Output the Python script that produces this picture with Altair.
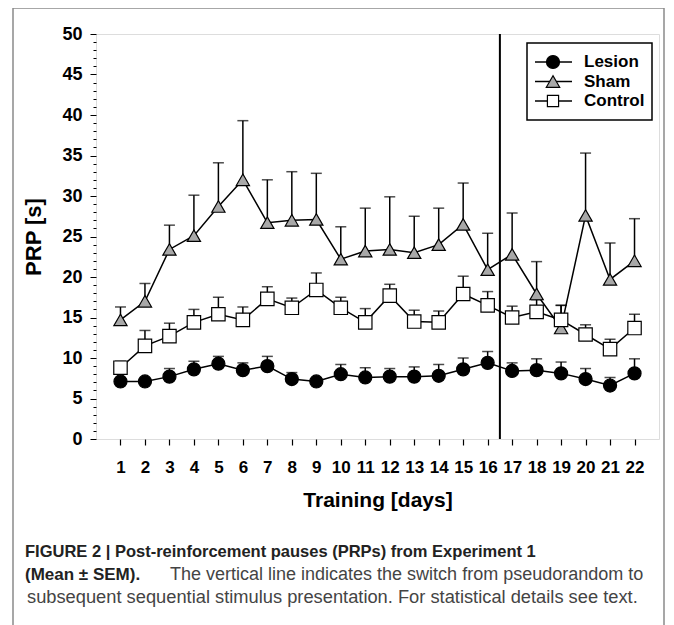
import altair as alt
import pandas as pd

days = list(range(1, 23))
series = ["Lesion", "Sham", "Control"]

lesion_mean = [7.1, 7.1, 7.7, 8.6, 9.3, 8.5, 9.0, 7.4, 7.1, 8.0, 7.6, 7.7, 7.7, 7.8, 8.6, 9.4, 8.4, 8.5, 8.1, 7.4, 6.6, 8.1]
lesion_sem = [0.4, 0.4, 1.0, 1.0, 0.9, 0.9, 1.2, 0.8, 0.4, 1.2, 1.2, 1.0, 1.2, 1.4, 1.4, 1.4, 1.0, 1.4, 1.4, 1.3, 1.0, 1.8]
sham_mean = [14.7, 17.0, 23.4, 25.1, 28.7, 32.0, 26.7, 27.0, 27.1, 22.2, 23.2, 23.4, 23.0, 24.0, 26.5, 20.9, 22.8, 17.9, 13.7, 27.6, 19.7, 22.0]
sham_sem = [1.6, 2.2, 3.0, 5.0, 5.4, 7.3, 5.3, 6.0, 5.7, 4.0, 5.3, 6.5, 4.5, 4.5, 5.1, 4.5, 5.1, 4.0, 2.8, 7.7, 4.5, 5.2]
control_mean = [8.8, 11.5, 12.7, 14.4, 15.4, 14.7, 17.3, 16.2, 18.4, 16.2, 14.4, 17.7, 14.5, 14.4, 17.9, 16.5, 15.0, 15.7, 14.7, 12.9, 11.1, 13.7]
control_sem = [0.8, 1.9, 1.6, 1.6, 2.1, 1.6, 1.5, 1.2, 2.1, 1.3, 1.7, 1.4, 1.4, 1.4, 2.2, 1.7, 1.4, 1.5, 1.8, 1.2, 1.2, 1.7]

switch_day = [16.5]
y_ticks = list(range(0, 51))

caption_line1 = "FIGURE 2 | Post-reinforcement pauses (PRPs) from Experiment 1"
caption_line2_bold = "(Mean \u00b1 SEM)."
caption_line2 = "The vertical line indicates the switch from pseudorandom to"
caption_line3 = "subsequent sequential stimulus presentation. For statistical details see text."

shapes = ["circle", "triangle-up", "square"]
fills = ["black", "#a8a8a8", "white"]
sizes = [170, 180, 125]

means = [lesion_mean, sham_mean, control_mean]
sems = [lesion_sem, sham_sem, control_sem]
rows = []
for s, m, e in zip(series, means, sems):
    for d, mv, ev in zip(days, m, e):
        rows.append({"day": d, "value": mv, "upper": round(mv + ev, 2), "group": s})
df = pd.DataFrame(rows)

FONT = "Liberation Sans"

xscale = alt.Scale(domain=[0, 23], nice=False)
yscale = alt.Scale(domain=[0, 50], nice=False)
xaxis = alt.Axis(values=days, title="Training [days]", grid=False,
                 labelFont=FONT, labelFontSize=17, labelFontWeight="bold",
                 labelColor="black", labelPadding=14, tickSize=6,
                 tickColor="black", tickWidth=1.2, domain=False,
                 labelOverlap=False, labelFlush=False,
                 titleFont=FONT, titleFontSize=21, titleFontWeight="bold",
                 titleColor="black", titlePadding=14)
yaxis = alt.Axis(values=y_ticks, title="PRP [s]", grid=False,
                 labelExpr="datum.value % 5 === 0 ? datum.label : ''",
                 labelFont=FONT, labelFontSize=18, labelFontWeight="bold",
                 labelColor="black", labelPadding=8, labelOverlap=False,
                 labelFlush=False,
                 tickSize={"condition": {"test": "datum.value % 5 === 0", "value": 6}, "value": 3},
                 tickColor="black", tickWidth=1, domain=False,
                 titleFont=FONT, titleFontSize=22, titleFontWeight="bold",
                 titleColor="black", titlePadding=16)

X = alt.X("day:Q", scale=xscale, axis=xaxis)
Y = alt.Y("value:Q", scale=yscale, axis=yaxis)

base = alt.Chart(df)

lines = base.mark_line(color="black", strokeWidth=1.5).encode(x=X, y=Y, detail="group:N")
err = base.mark_rule(color="black", strokeWidth=1.5).encode(x=X, y=Y, y2="upper:Q")
caps = base.mark_tick(color="black", orient="horizontal", size=11, thickness=1.5).encode(
    x=X, y=alt.Y("upper:Q", scale=yscale, axis=yaxis))
points = base.mark_point(filled=True, stroke="black", strokeWidth=1.2, opacity=1).encode(
    x=X, y=Y,
    shape=alt.Shape("group:N", scale=alt.Scale(domain=series, range=shapes), legend=None),
    fill=alt.Fill("group:N", scale=alt.Scale(domain=series, range=fills), legend=None),
    size=alt.Size("group:N", scale=alt.Scale(domain=series, range=sizes), legend=None),
)

vline = alt.Chart(pd.DataFrame({"day": switch_day})).mark_rule(color="black", strokeWidth=2).encode(x=X)

one = pd.DataFrame({"k": [0]})
# legend box
legend_box = alt.Chart(one).mark_rect(fill="white", stroke="black", strokeWidth=1.5).encode(
    x=alt.value(431), x2=alt.value(556), y=alt.value(9), y2=alt.value(86))
legend_layers = [legend_box]
for i, (s, shp, fl, sz) in enumerate(zip(series, shapes, fills, sizes)):
    ly = 28 + i * 19.5
    d1 = pd.DataFrame({"name": [s]})
    legend_layers.append(alt.Chart(d1).mark_rule(color="black", strokeWidth=1.5).encode(
        x=alt.value(439), x2=alt.value(476), y=alt.value(ly)))
    legend_layers.append(alt.Chart(d1).mark_point(shape=shp, fill=fl, filled=True, stroke="black",
                                                 strokeWidth=1.2, size=sz, opacity=1).encode(
        x=alt.value(457), y=alt.value(ly)))
    legend_layers.append(alt.Chart(d1).mark_text(align="left", baseline="middle", font=FONT,
                                                fontSize=17, fontWeight="bold", color="black").encode(
        x=alt.value(488), y=alt.value(ly), text="name:N"))

# figure frame (left, top, right edges; continues past the bottom of the page)
fcol = "#8a8a8a"
frame_left = alt.Chart(one).mark_rule(color=fcol, strokeWidth=1.5).encode(
    x=alt.value(-83), y=alt.value(-26), y2=alt.value(700))
frame_right = alt.Chart(one).mark_rule(color=fcol, strokeWidth=1.5).encode(
    x=alt.value(568), y=alt.value(-26), y2=alt.value(700))
frame_top = alt.Chart(one).mark_rule(color=fcol, strokeWidth=1.5).encode(
    x=alt.value(-83), x2=alt.value(568), y=alt.value(-26))

def cap_text(txt, x, y, weight, color, size):
    return alt.Chart(pd.DataFrame({"t": [txt]})).mark_text(
        align="left", baseline="alphabetic", font=FONT, fontSize=size,
        fontWeight=weight, color=color).encode(x=alt.value(x), y=alt.value(y), text="t:N")

captions = [
    cap_text(caption_line1, -71, 523, "bold", "#222222", 16.5),
    cap_text(caption_line2_bold, -71, 546, "bold", "#222222", 17),
    cap_text(caption_line2, 74, 546, "normal", "#444444", 18),
    cap_text(caption_line3, -69, 569, "normal", "#444444", 18.3),
]

chart = alt.layer(
    frame_left, frame_right, frame_top, lines, err, caps, points, vline, *legend_layers, *captions
).properties(
    width=563, height=405,
    autosize=alt.AutoSizeParams(type="none"),
    padding={"left": 88, "top": 26, "right": 7, "bottom": 194},
).configure_view(stroke="black", strokeWidth=1.5).configure(background="white")

chart.save("out.html", embed_options={"renderer": "svg", "actions": False})
